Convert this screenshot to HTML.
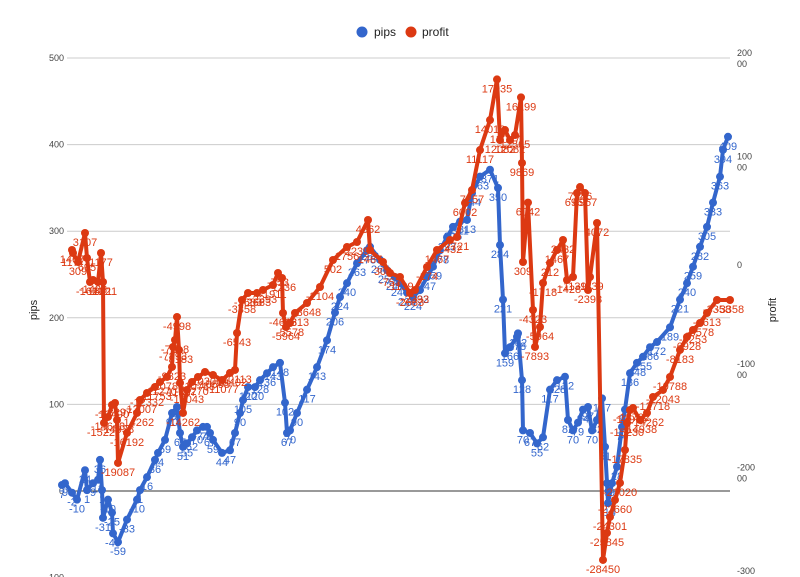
<!DOCTYPE html>
<html><head><meta charset="utf-8"><style>
body{margin:0;background:#fff;}
svg{display:block;font-family:"Liberation Sans",Arial,sans-serif;}
</style></head><body>
<svg id="chart" width="800" height="577" viewBox="0 0 800 577">
<g>
 <g><circle cx="362" cy="32" r="5.5" fill="#3366cc"/><text x="374" y="36" font-size="12" fill="#222">pips</text></g>
 <g><circle cx="411" cy="32" r="5.5" fill="#dc3912"/><text x="422" y="36" font-size="12" fill="#222">profit</text></g>
</g>
<g id="grid"></g>
<g id="laxis"></g>
<g id="raxis"></g>
<text x="37" y="310" font-size="11" fill="#222" transform="rotate(-90 37 310)" text-anchor="middle">pips</text>
<text x="776" y="310" font-size="11" fill="#222" transform="rotate(-90 776 310)" text-anchor="middle">profit</text>
<g id="series"></g>
</svg>
<script>
const pipsTrades=[0,3,10,15,23,25,31,36,38,40,41,46,50,51,56,65,75,78,85,93,96,103,110,115,118,121,125,130,135,141,145,148,151,160,168,173,178,181,186,193,198,205,211,218,223,225,228,235,245,255,265,273,278,285,295,305,308,318,325,333,338,345,351,358,365,371,378,385,391,398,405,410,418,428,436,438,441,443,448,455,456,460,461,468,475,481,488,495,503,506,511,516,521,526,530,535,540,543,545,546,550,555,560,563,568,575,581,588,595,608,618,625,631,638,645,651,658,661,666];
const pipsValues=[7,9,-2,-10,24,1,9,13,36,1,-31,-10,-25,-49,-59,-33,-10,1,16,36,44,59,90,97,67,51,55,62,70,74,74,67,59,44,47,67,90,105,120,120,128,136,143,148,102,67,70,90,117,143,174,206,224,240,263,278,282,267,255,247,240,229,224,232,247,259,278,293,305,311,313,344,363,371,350,284,221,159,166,178,182,128,70,67,55,62,117,128,132,82,70,79,94,97,70,82,107,51,9,-14,9,28,74,94,136,148,155,166,172,189,221,240,259,282,305,333,363,394,409];
const profitTrades=[10,11,16,23,25,28,31,36,39,41,42,46,50,53,55,56,65,75,78,85,93,98,105,110,111,113,115,117,118,121,125,130,136,143,151,160,168,173,175,180,186,195,201,211,216,220,221,224,228,233,245,258,271,285,295,306,308,321,328,338,348,353,365,375,388,395,403,410,418,428,435,438,443,448,453,459,460,461,466,471,473,478,481,488,495,501,505,511,515,518,523,526,528,535,541,545,548,553,558,563,565,568,571,578,585,591,601,608,618,625,631,638,645,655,668];
const profitValues=[1467,1177,309,3107,695,-1621,-1428,-1621,1177,-1621,-15227,-14648,-13490,-13297,-14938,-19087,-16192,-14262,-13007,-12332,-11753,-11270,-10788,-9823,-7893,-7218,-4998,-8183,-11367,-14262,-12043,-11270,-10788,-10306,-10595,-11077,-10402,-10113,-6543,-3358,-2683,-2683,-2393,-1911,-753,-1236,-4613,-5964,-5578,-4613,-3648,-2104,502,1756,2239,4362,1467,309,-753,-1139,-2683,-2393,-174,1467,2432,2721,6002,7257,11117,14012,17935,12082,13047,12082,12565,16199,9869,309,6042,-4323,-7893,-5964,-1718,212,1467,2432,-1428,-1139,6967,7546,6967,-2393,-1139,4072,-28450,-25845,-24301,-22660,-21020,-17835,-15230,-13975,-13782,-14938,-14262,-12718,-12043,-10788,-8183,-6928,-6253,-5578,-4613,-3358,-3358];
const leftTicks=[500,400,300,200,100,0,-100];
const rightTicks=[20000,10000,0,-10000,-20000,-30000];

const NS="http://www.w3.org/2000/svg";
const X0=62,X1=730,T0=0,T1=668;
function xScale(t){return X0+(t-T0)/(T1-T0)*(X1-X0);}
function yPips(v){return 491-v*0.866;}
function yProfit(v){return 265.2-v*0.01036;}
function mk(tag,attrs,parent){const e=document.createElementNS(NS,tag);for(const k in attrs)e.setAttribute(k,attrs[k]);parent.appendChild(e);return e;}
const grid=document.getElementById('grid'),la=document.getElementById('laxis'),ra=document.getElementById('raxis'),ser=document.getElementById('series');
leftTicks.forEach(v=>{
  const y=yPips(v);
  if(v!==0&&v>-100){const l=mk('line',{x1:67,x2:730,y1:y,y2:y,stroke:'#ccc','stroke-width':1},grid);
  
  }
  const t=mk('text',{x:64,y:y+3,'font-size':9,fill:'#444','text-anchor':'end'},la);
  t.textContent=v;
  
  
});
const zl=mk('line',{x1:67,x2:730,y1:yPips(0),y2:yPips(0),stroke:'#333','stroke-width':1},grid);


rightTicks.forEach(v=>{
  const y=yProfit(v);const s=String(v);
  const t=mk('text',{x:737,y:y-2,'font-size':9,fill:'#444'},ra);
  const a=mk('tspan',{x:737},t);a.textContent=s.slice(0,s.length-2);
  const b=mk('tspan',{x:737,dy:11},t);b.textContent=s.slice(s.length-2);
  if(v===0){a.textContent='0';b.textContent='';t.setAttribute('y',y+3);}
  
  
});
function drawSeries(trades,vals,yf,color,name){
  const g=mk('g',{},ser);
  
  
  const lg=mk('g',{},g);
  vals.forEach((v,i)=>{
    const x=xScale(trades[i]),y=yf(v);
    const t=mk('text',{x:x,y:y+13,'font-size':11,fill:color,'text-anchor':'middle'},lg);
    t.textContent=name==='pips'?v:Math.round(v);
    
    
  });
  const d=vals.map((v,i)=>(i?'L':'M')+xScale(trades[i]).toFixed(1)+','+yf(v).toFixed(1)).join('');
  const p=mk('path',{d:d,fill:'none',stroke:color,'stroke-width':4,'stroke-linejoin':'round'},g);
  
  
  vals.forEach((v,i)=>{
    const c=mk('circle',{cx:xScale(trades[i]),cy:yf(v),r:4,fill:color},g);
    
    
  });
}
drawSeries(pipsTrades,pipsValues,yPips,'#3366cc','pips');
drawSeries(profitTrades,profitValues,yProfit,'#dc3912','profit');
</script>
</body></html>
